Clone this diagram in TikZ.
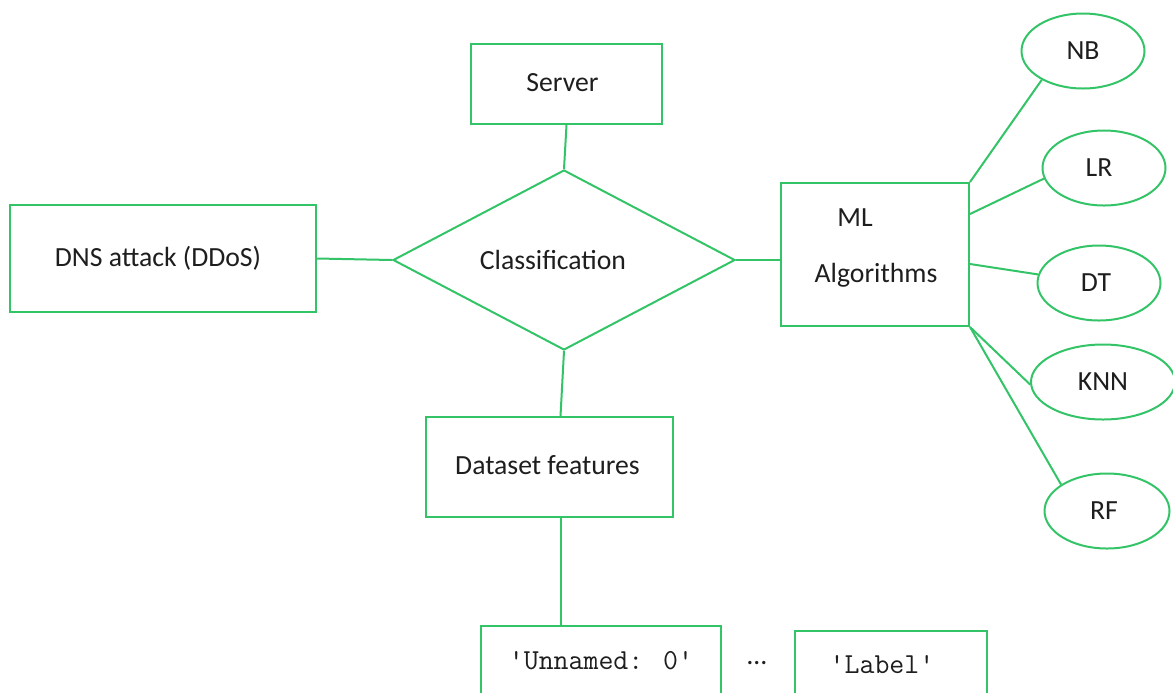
\documentclass[tikz,border=0pt]{standalone}
\usepackage{fontspec}
\setmainfont{Carlito}
\usetikzlibrary{shapes.geometric}
\definecolor{edgegreen}{RGB}{52,196,104}
\definecolor{ink}{RGB}{30,30,30}
\tikzset{
  box/.style={draw=edgegreen, line width=1pt, rectangle, inner sep=0pt, text=ink,
              font=\fontsize{13.85}{16}\selectfont},
  decision/.style={draw=edgegreen, line width=1pt, diamond, inner sep=0pt, text=ink,
              minimum width=171pt, minimum height=90pt, font=\fontsize{13.85}{16}\selectfont},
  algo/.style={draw=edgegreen, line width=1pt, ellipse, inner sep=0pt, text=ink,
              minimum width=61.5pt, minimum height=37.5pt, font=\fontsize{13.85}{16}\selectfont},
  field/.style={box, font=\fontsize{14.5}{16}\ttfamily},
  plain/.style={text=ink, inner sep=0pt, font=\fontsize{13.85}{16}\selectfont},
  link/.style={draw=edgegreen, line width=1pt}
}
\begin{document}
\begin{tikzpicture}[x=0.5pt, y=-0.5pt]
  \clip (0,0) rectangle (1173,692);
  \fill[white] (0,0) rectangle (1173,692);

  % main entities
  \node[box, minimum width=95.5pt, minimum height=40pt] (server) at (566.5,84)
       {\raisebox{1.5pt}{\kern-4pt Server}};
  \node[box, minimum width=153pt, minimum height=53.5pt] (dns) at (163,258.5)
       {\raisebox{-1.5pt}{\kern-5pt DNS attack (DDoS)}};
  \node[decision] (cls) at (564,260) {\kern-11pt Classification};
  \node[box, minimum width=94pt, minimum height=71.5pt] (ml) at (875,254.5) {};
  \node[plain] (mltop) at (855,218) {ML};
  \node[plain] (mlbot) at (876,275) {Algorithms};
  \node[box, minimum width=123.5pt, minimum height=50pt] (ds) at (549.5,467)
       {\raisebox{2.5pt}{\kern-2pt Dataset features}};

  % dataset columns
  \node[field, minimum width=120pt, minimum height=35pt] (col0) at (601,661) {'Unnamed: 0'};
  \node[plain] (dots) at (757,663) {\dots};
  \node[field, minimum width=96pt, minimum height=34pt] (lbl) at (891,665) {\kern-9pt'Label'};

  % classifiers
  \node[algo] (nb) at (1083,51) {NB};
  \node[algo] (lr) at (1104,168) {\kern-5pt LR};
  \node[algo] (dt) at (1099,283) {\kern-3pt DT};
  \node[algo, minimum width=72pt] (knn) at (1103,382) {KNN};
  \node[algo, minimum width=62.5pt] (rf) at (1107,511) {\kern-3pt RF};

  % connectors
  \draw[link] (server.south) -- (cls.north);
  \draw[link] (dns.east) -- (cls.west);
  \draw[link] (cls.east) -- (cls.east -| ml.west);
  \draw[link] (cls.south) -- ([xshift=5.5pt]ds.north);
  \coordinate (dsfoot) at ([xshift=5.5pt]ds.south);
  \draw[link] (dsfoot) -- (dsfoot |- col0.north);

  \draw[link] (ml.north east) -- (nb.215);
  \draw[link] ([yshift=-16pt]ml.north east) -- (lr.190);
  \draw[link] ([yshift=-41pt]ml.north east) -- (dt.172);
  \draw[link] (ml.south east) -- (knn.182);
  \draw[link] (ml.south east) -- (rf.150);
\end{tikzpicture}
\end{document}
